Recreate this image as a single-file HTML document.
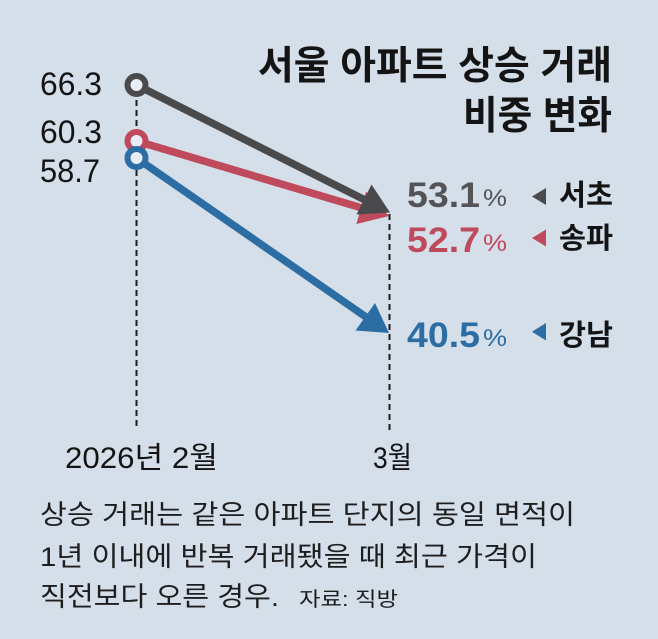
<!DOCTYPE html>
<html>
<head>
<meta charset="utf-8">
<style>
  html, body { margin:0; padding:0; background:#d5dfea; }
  body { width:658px; height:639px; overflow:hidden; }
  svg { display:block; }
  text { font-family: "Liberation Sans", "Noto Sans CJK KR", sans-serif; }
</style>
</head>
<body>
<svg width="658" height="639" viewBox="0 0 658 639" xmlns="http://www.w3.org/2000/svg">
  <rect x="0" y="0" width="658" height="639" fill="#d5dfea"/>

  <!-- Title -->
  <text x="258" y="79" font-size="39" font-weight="700" fill="#141414" textLength="354" lengthAdjust="spacingAndGlyphs">서울 아파트 상승 거래</text>
  <text x="463" y="129" font-size="39" font-weight="700" fill="#141414" textLength="149" lengthAdjust="spacingAndGlyphs">비중 변화</text>

  <!-- dashed guide lines -->
  <line x1="136.5" y1="90" x2="136.5" y2="430" stroke="#1e1e1e" stroke-width="2" stroke-dasharray="6 4"/>
  <line x1="389.5" y1="214" x2="389.5" y2="430" stroke="#1e1e1e" stroke-width="2" stroke-dasharray="6 4"/>

  <!-- Blue series -->
  <line x1="136.5" y1="158" x2="366" y2="317" stroke="#2c6da3" stroke-width="7.5"/>
  <polygon points="389,333 355.5,330.5 375,303" fill="#2c6da3"/>

  <!-- Red series -->
  <line x1="136.5" y1="141" x2="362" y2="208" stroke="#bf4a5b" stroke-width="7.5"/>
  <polygon points="389,216 356.3,224 366,191.6" fill="#bf4a5b"/>

  <!-- Gray series -->
  <line x1="136.5" y1="85" x2="365" y2="200" stroke="#4a4a4c" stroke-width="7.5"/>
  <polygon points="390,212.5 356.5,214.5 371.5,184.5" fill="#4a4a4c"/>

  <!-- markers -->
  <circle cx="136.5" cy="141" r="9" fill="#e8eef5" stroke="#bf4a5b" stroke-width="6"/>
  <circle cx="136.5" cy="158" r="9" fill="#e8eef5" stroke="#2c6da3" stroke-width="6"/>
  <circle cx="136.5" cy="85" r="9" fill="#e8eef5" stroke="#4a4a4c" stroke-width="6"/>

  <!-- start values -->
  <text x="40" y="95" font-size="32" fill="#141414" textLength="62" lengthAdjust="spacingAndGlyphs">66.3</text>
  <text x="40" y="143" font-size="32" fill="#141414" textLength="62" lengthAdjust="spacingAndGlyphs">60.3</text>
  <text x="40" y="182" font-size="32" fill="#141414" textLength="60" lengthAdjust="spacingAndGlyphs">58.7</text>

  <!-- end values -->
  <text x="407" y="207" font-size="35" font-weight="700" fill="#545456" textLength="73" lengthAdjust="spacingAndGlyphs">53.1</text>
  <text x="483" y="206" font-size="24" fill="#545456" textLength="24" lengthAdjust="spacingAndGlyphs">%</text>
  <text x="407" y="252" font-size="35" font-weight="700" fill="#bf4a5b" textLength="73" lengthAdjust="spacingAndGlyphs">52.7</text>
  <text x="483" y="251" font-size="24" fill="#bf4a5b" textLength="24" lengthAdjust="spacingAndGlyphs">%</text>
  <text x="407" y="347" font-size="35" font-weight="700" fill="#2c6da3" textLength="73" lengthAdjust="spacingAndGlyphs">40.5</text>
  <text x="483" y="346" font-size="24" fill="#2c6da3" textLength="24" lengthAdjust="spacingAndGlyphs">%</text>

  <!-- small pointer triangles -->
  <polygon points="532,196.5 546,188 546,205" fill="#4a4a4c"/>
  <polygon points="532,238 546,229.5 546,246.5" fill="#bf4a5b"/>
  <polygon points="532,331.7 546,323 546,340.5" fill="#2c6da3"/>

  <!-- district names -->
  <text x="559" y="205" font-size="29" font-weight="700" fill="#141414" textLength="54" lengthAdjust="spacingAndGlyphs">서초</text>
  <text x="559" y="248" font-size="29" font-weight="700" fill="#141414" textLength="54" lengthAdjust="spacingAndGlyphs">송파</text>
  <text x="559" y="345" font-size="29" font-weight="700" fill="#141414" textLength="54" lengthAdjust="spacingAndGlyphs">강남</text>

  <!-- x labels -->
  <text x="65" y="468" font-size="30" fill="#141414" textLength="153" lengthAdjust="spacingAndGlyphs">2026년 2월</text>
  <text x="373" y="468" font-size="30" fill="#141414" textLength="39" lengthAdjust="spacingAndGlyphs">3월</text>

  <!-- caption -->
  <text x="40" y="524" font-size="27" fill="#1e1e1e" textLength="535" lengthAdjust="spacingAndGlyphs">상승 거래는 같은 아파트 단지의 동일 면적이</text>
  <text x="40" y="566" font-size="27" fill="#1e1e1e" textLength="497" lengthAdjust="spacingAndGlyphs">1년 이내에 반복 거래됐을 때 최근 가격이</text>
  <text x="40" y="606" font-size="27" fill="#1e1e1e" textLength="239" lengthAdjust="spacingAndGlyphs">직전보다 오른 경우.</text>
  <text x="299" y="606" font-size="20" fill="#1e1e1e" textLength="99" lengthAdjust="spacingAndGlyphs">자료: 직방</text>
</svg>
</body>
</html>
